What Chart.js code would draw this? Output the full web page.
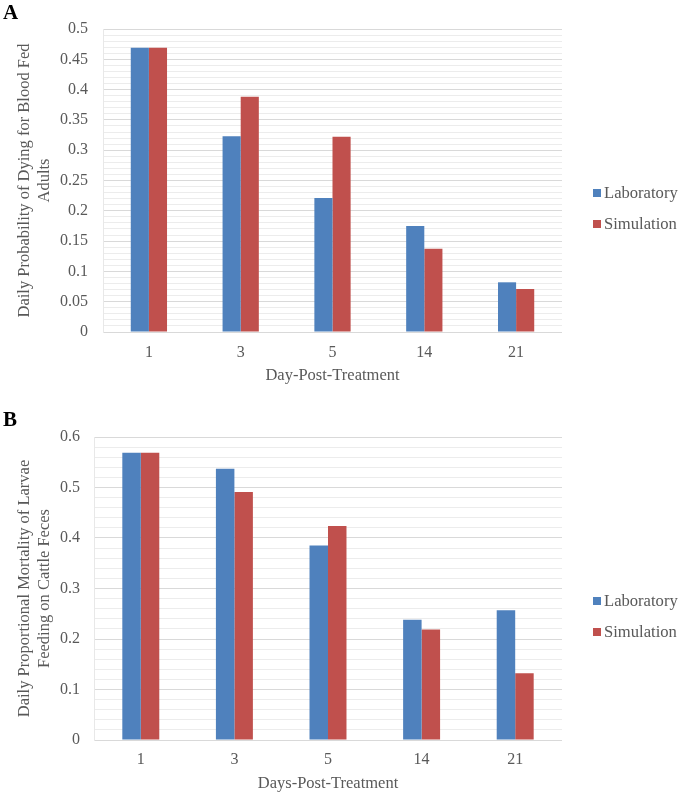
<!DOCTYPE html>
<html>
<head>
<meta charset="utf-8">
<script src="https://cdn.jsdelivr.net/npm/chart.js@4.4.1/dist/chart.umd.min.js"></script>
<style>
  html, body { margin: 0; padding: 0; background: #ffffff; }
  #wrap { position: relative; width: 681px; height: 796px; overflow: hidden; }
  canvas { position: absolute; left: 0; }
  .panel { position: absolute; left: 3px; font-family: "Liberation Serif", "Times New Roman", serif; font-weight: bold; color: #000; line-height: 1; }
</style>
</head>
<body>
<div id="wrap">
  <canvas id="cA" width="681" height="390" style="top:0px"></canvas>
  <canvas id="cB" width="681" height="406" style="top:390px"></canvas>
  <div class="panel" style="top:2px; font-size:21px;">A</div>
  <div class="panel" style="top:409px; font-size:21px;">B</div>
</div>
<script>
// ---- data ----
const categories = ['1', '3', '5', '14', '21'];
const seriesNames = ['Laboratory', 'Simulation'];

const labA = [0.469, 0.323, 0.221, 0.175, 0.082];
const simA = [0.469, 0.388, 0.322, 0.1375, 0.071];

const labB = [0.569, 0.537, 0.385, 0.238, 0.257];
const simB = [0.569, 0.491, 0.424, 0.219, 0.132];

const yMajorA = [0, 0.05, 0.1, 0.15, 0.2, 0.25, 0.3, 0.35, 0.4, 0.45, 0.5];
const yMajorB = [0, 0.1, 0.2, 0.3, 0.4, 0.5, 0.6];

const yTitleA = ['Daily Probability of Dying for Blood Fed', 'Adults'];
const xTitleA = 'Day-Post-Treatment';
const yTitleB = ['Daily Proportional Mortality of Larvae', 'Feeding on Cattle Feces'];
const xTitleB = 'Days-Post-Treatment';

// ---- styling ----
const BLUE = '#4F81BD';
const RED = '#C0504D';
const TEXT = '#595959';
const FONT = '"Liberation Serif", "Times New Roman", serif';

const legendPlugin = {
  id: 'sideLegend',
  afterDraw(chart, args, opts) {
    const ctx = chart.ctx;
    ctx.save();
    ctx.font = '16.6px ' + FONT;
    ctx.textBaseline = 'middle';
    ctx.textAlign = 'left';
    chart.data.datasets.forEach((ds, i) => {
      const y = opts.y + i * opts.gap;
      ctx.fillStyle = ds.backgroundColor;
      ctx.fillRect(opts.x, y - 4, 8, 8);
      ctx.fillStyle = TEXT;
      ctx.fillText(ds.label, opts.x + 11, y + 1);
    });
    ctx.restore();
  }
};

function isMajor(v, majors) {
  return majors.some(m => Math.abs(m - v) < 1e-6);
}

function makeChart(id, lab, sim, majors, yMax, minorStep, yTitle, xTitle, geo) {
  const canvas = document.getElementById(id);
  return new Chart(canvas.getContext('2d'), {
    type: 'bar',
    data: {
      labels: categories,
      datasets: [
        { label: seriesNames[0], data: lab, backgroundColor: BLUE, borderWidth: 0 },
        { label: seriesNames[1], data: sim, backgroundColor: RED, borderWidth: 0 }
      ]
    },
    options: {
      responsive: false,
      animation: false,
      devicePixelRatio: 1,
      layout: { padding: { top: geo.top, right: geo.right, bottom: 0, left: 0 } },
      datasets: { bar: { categoryPercentage: 0.395, barPercentage: 1.0 } },
      plugins: {
        legend: { display: false },
        tooltip: { enabled: false },
        sideLegend: { x: geo.legX, y: geo.legY, gap: 31 }
      },
      scales: {
        x: {
          grid: { display: false, drawTicks: false },
          border: { display: false },
          ticks: { color: TEXT, font: { family: FONT, size: 16 }, padding: geo.xTickPad },
          title: {
            display: true, text: xTitle, color: TEXT,
            font: { family: FONT, size: 16.5, lineHeight: 1.2 },
            padding: { top: 0, bottom: geo.xTitlePad }
          },
          afterFit(scale) { scale.height = geo.xH; }
        },
        y: {
          min: 0, max: yMax,
          grid: {
            drawTicks: false,
            color: c => (c.tick && isMajor(c.tick.value, majors)) ? '#d9d9d9' : '#ececec',
            lineWidth: 1
          },
          border: { display: true, color: '#e8e8e8' },
          ticks: {
            stepSize: minorStep,
            autoSkip: false,
            color: TEXT,
            font: { family: FONT, size: 16 },
            padding: geo.yTickPad,
            callback: v => isMajor(v, majors) ? String(parseFloat(v.toFixed(2))) : ''
          },
          title: {
            display: true, text: yTitle, color: TEXT,
            font: { family: FONT, size: 16.5, lineHeight: 1.18 },
            padding: { top: 15, bottom: 0 }
          },
          afterFit(scale) { scale.width = geo.yW; }
        }
      }
    },
    plugins: [legendPlugin]
  });
}

makeChart('cA', labA, simA, yMajorA, 0.5, 0.01, yTitleA, xTitleA,
  { top: 29, right: 119, xH: 58, yW: 103, xTickPad: 11, xTitlePad: 4, yTickPad: 15, legX: 593, legY: 193 });

makeChart('cB', labB, simB, yMajorB, 0.6, 0.02, yTitleB, xTitleB,
  { top: 47, right: 119, xH: 56, yW: 94, xTickPad: 10, xTitlePad: 2, yTickPad: 14, legX: 593, legY: 211 });
</script>
</body>
</html>
